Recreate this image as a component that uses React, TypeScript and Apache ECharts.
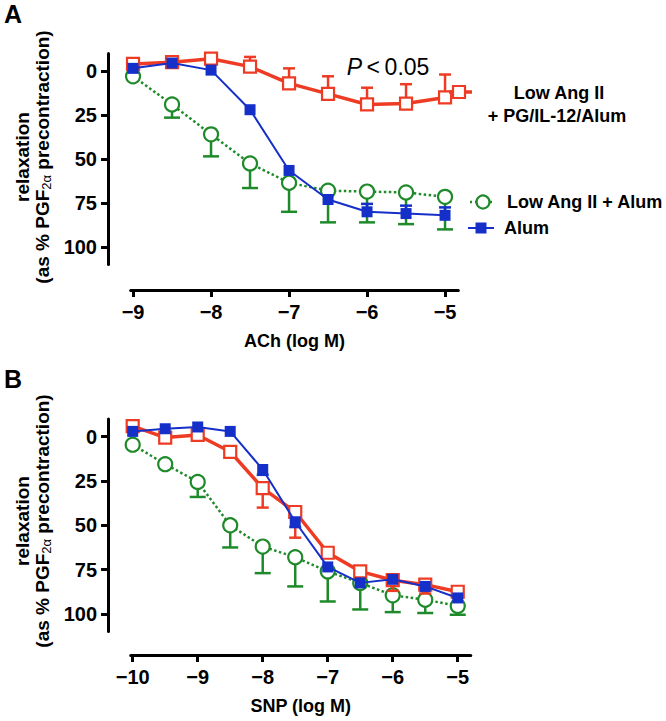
import React, { useEffect, useRef } from 'react';
import * as echarts from 'echarts';

// ---------- data ----------
const xA = [-9, -8.5, -8, -7.5, -7, -6.5, -6, -5.5, -5];
const redA = [-4, -5, -7, -2.5, 7, 13, 19, 18.5, 15];
const redAErr = [null, null, null, -8, -1.5, 3, 9.5, 7.5, 2];
const blueA = [-1.5, -4.5, -0.5, 22, 56.5, 73, 80, 81, 82];
const blueAErr = [null, null, null, null, null, null, 75.5, 76.5, 77.5];
const greenA = [3, 19, 36, 52.5, 63.5, 68, 68.5, 69, 71.5];
const greenAErr = [null, 26.5, 48.5, 66.5, 80, 86, 86, 87, 90];

const xB = [-10, -9.5, -9, -8.5, -8, -7.5, -7, -6.5, -6, -5.5, -5];
const redB = [-6, 0.5, -1, 8.5, 29, 42.5, 65.5, 76, 81, 83.5, 87.5];
const redBErr = [null, null, null, null, 40, 57, null, null, 87, 88.5, null];
const blueB = [-3, -4.5, -5.5, -3, 18.5, 48, 73.5, 82.5, 80.5, 84.5, 91];
const blueBErr = [null, null, null, null, 21.5, 51, null, null, null, null, null];
const greenB = [4.5, 15.5, 25.5, 50, 62, 68, 76, 82.5, 89.5, 92, 95.5];
const greenBErr = [null, null, 34, 62.5, 77, 84.5, 93, 97.5, 99, 99.5, 100.5];

const yTicks = [0, 25, 50, 75, 100];
const xTicksA = [-9, -8, -7, -6, -5];
const xTicksB = [-10, -9, -8, -7, -6, -5];

const seriesNames = ['Low Ang II + PG/IL-12/Alum', 'Low Ang II + Alum', 'Alum'];

// ---------- styles ----------
const F = "'Liberation Sans', Arial, Helvetica, sans-serif";
const RED = '#ee3b24';
const BLUE = '#1530c8';
const GREEN = '#1f8a2a';

const pairs = (xs: number[], ys: number[]) => xs.map((x, i) => [x, ys[i]]);
const errs = (xs: number[], ys: number[], es: (number | null)[]) =>
  xs.map((x, i) => (es[i] == null ? null : [x, ys[i], es[i]])).filter(Boolean) as number[][];

function errSeries(data: number[][], color: string, cap: number, axis: number, z: number) {
  return {
    type: 'custom',
    xAxisIndex: axis,
    yAxisIndex: axis,
    z,
    silent: true,
    encode: { x: 0, y: [1, 2] },
    data,
    renderItem: (params: any, api: any) => {
      const x = api.value(0);
      const y = api.value(1);
      const e = api.value(2);
      const p1 = api.coord([x, y]);
      const p2 = api.coord([x, e]);
      const st = { stroke: color, lineWidth: 2.5, fill: 'none' };
      return {
        type: 'group',
        children: [
          { type: 'line', shape: { x1: p1[0], y1: p1[1], x2: p2[0], y2: p2[1] }, style: st },
          { type: 'line', shape: { x1: p2[0] - cap / 2, y1: p2[1], x2: p2[0] + cap / 2, y2: p2[1] }, style: st },
        ],
      };
    },
  };
}

function lineSeries(name: string, data: number[][], kind: 'red' | 'blue' | 'green', axis: number, z: number) {
  const base: any = {
    type: 'line',
    name,
    data,
    xAxisIndex: axis,
    yAxisIndex: axis,
    z,
    silent: true,
  };
  if (kind === 'red') {
    return {
      ...base,
      symbol: 'rect',
      symbolSize: 12,
      itemStyle: { color: '#fff', borderColor: RED, borderWidth: 2.2 },
      lineStyle: { color: RED, width: 3.5 },
    };
  }
  if (kind === 'blue') {
    return {
      ...base,
      symbol: 'rect',
      symbolSize: 11,
      itemStyle: { color: BLUE, borderColor: BLUE, borderWidth: 0 },
      lineStyle: { color: BLUE, width: 2 },
    };
  }
  return {
    ...base,
    symbol: 'circle',
    symbolSize: 14,
    itemStyle: { color: '#fff', borderColor: GREEN, borderWidth: 2.2 },
    lineStyle: { color: GREEN, width: 2.5, type: 'dotted' },
  };
}

const axisLineStyle = { show: true, onZero: false, lineStyle: { color: '#000', width: 3 } };
const tickStyle = { show: true, length: 7, lineStyle: { color: '#000', width: 3 } };
const tickLabel = { fontFamily: F, fontWeight: 'bold' as const, fontSize: 20, color: '#000' };
const minusFmt = (v: number) => (v < 0 ? '\u2212' + Math.abs(v) : String(v));

function yAxis(grid: number) {
  return {
    type: 'value',
    gridIndex: grid,
    inverse: true,
    min: -10,
    max: 110,
    offset: 22.7,
    axisLine: axisLineStyle,
    axisTick: { ...tickStyle, customValues: yTicks },
    axisLabel: { ...tickLabel, margin: 11, customValues: yTicks },
    splitLine: { show: false },
  };
}

function xAxis(grid: number, min: number, max: number, ticks: number[], name: string, offset: number) {
  return {
    type: 'value',
    gridIndex: grid,
    position: 'bottom',
    min,
    max,
    offset,
    name,
    nameLocation: 'middle',
    nameGap: 42,
    nameTextStyle: { fontFamily: F, fontWeight: 'bold', fontSize: 18, color: '#000', verticalAlign: 'top' },
    axisLine: axisLineStyle,
    axisTick: { ...tickStyle, customValues: ticks },
    axisLabel: { ...tickLabel, margin: 12, customValues: ticks, formatter: minusFmt },
    splitLine: { show: false },
  };
}

function yTitle(cx1: number, cx2: number, cy: number) {
  return [
    {
      type: 'text',
      x: cx1,
      y: cy,
      rotation: Math.PI / 2,
      style: {
        text: 'relaxation',
        fontFamily: F,
        fontWeight: 'bold',
        fontSize: 19,
        fill: '#000',
        align: 'center',
        verticalAlign: 'middle',
      },
    },
    {
      type: 'text',
      x: cx2,
      y: cy,
      rotation: Math.PI / 2,
      style: {
        text: '(as % PGF{sub|2\u03b1} precontraction)',
        fontFamily: F,
        fontWeight: 'bold',
        fontSize: 19,
        fill: '#000',
        align: 'center',
        verticalAlign: 'middle',
        rich: {
          sub: { fontFamily: F, fontWeight: 'normal', fontSize: 13, fill: '#000', padding: [9, 0, 0, 0] },
        },
      },
    },
  ];
}

const textStyle = (text: string, size: number, align = 'left') => ({
  text,
  fontFamily: F,
  fontWeight: 'bold',
  fontSize: size,
  fill: '#000',
  align,
  verticalAlign: 'middle',
});

const option: any = {
  animation: false,
  backgroundColor: '#fff',
  grid: [
    { left: 130.7, top: 53.4, width: 327.6, height: 211.2, containLabel: false, outerBoundsMode: 'none' },
    { left: 130.75, top: 419, width: 340, height: 212.6, containLabel: false, outerBoundsMode: 'none' },
  ],
  xAxis: [
    xAxis(0, -9.03, -4.83, xTicksA, 'ACh (log M)', 25.4),
    xAxis(1, -10.03, -4.8, xTicksB, 'SNP (log M)', 23.4),
  ],
  yAxis: [yAxis(0), yAxis(1)],
  series: [
    errSeries(errs(xA, greenA, greenAErr), GREEN, 16, 0, 1),
    lineSeries(seriesNames[1], pairs(xA, greenA), 'green', 0, 2),
    errSeries(errs(xA, redA, redAErr), RED, 12, 0, 3),
    lineSeries(seriesNames[0], pairs(xA, redA), 'red', 0, 4),
    errSeries(errs(xA, blueA, blueAErr), BLUE, 12, 0, 5),
    lineSeries(seriesNames[2], pairs(xA, blueA), 'blue', 0, 6),

    errSeries(errs(xB, greenB, greenBErr), GREEN, 16, 1, 1),
    lineSeries(seriesNames[1], pairs(xB, greenB), 'green', 1, 2),
    errSeries(errs(xB, redB, redBErr), RED, 12, 1, 3),
    lineSeries(seriesNames[0], pairs(xB, redB), 'red', 1, 4),
    errSeries(errs(xB, blueB, blueBErr), BLUE, 12, 1, 5),
    lineSeries(seriesNames[2], pairs(xB, blueB), 'blue', 1, 6),
  ],
  graphic: [
    { type: 'text', x: 4, y: 14, style: textStyle('A', 25) },
    { type: 'text', x: 4, y: 379, style: textStyle('B', 25) },
    ...yTitle(22, 42, 157),
    ...yTitle(22, 42, 521),
    {
      type: 'text',
      x: 388,
      y: 67,
      style: {
        text: '{i|P}\u2009<\u20090.05',
        fontFamily: F,
        fontSize: 23,
        fill: '#000',
        align: 'center',
        verticalAlign: 'middle',
        rich: { i: { fontFamily: F, fontStyle: 'italic', fontSize: 23, fill: '#000' } },
      },
    },
    // legend: red
    { type: 'line', z: 10, shape: { x1: 449, y1: 92, x2: 472, y2: 92 }, style: { stroke: RED, lineWidth: 3.5 } },
    { type: 'rect', z: 11, shape: { x: 453, y: 86, width: 12, height: 12 }, style: { fill: '#fff', stroke: RED, lineWidth: 2.2 } },
    { type: 'text', x: 559, y: 93, style: textStyle('Low Ang II', 18, 'center') },
    { type: 'text', x: 557, y: 116, style: textStyle('+ PG/IL-12/Alum', 18, 'center') },
    // legend: green
    { type: 'line', z: 10, shape: { x1: 470, y1: 202, x2: 493, y2: 202 }, style: { stroke: GREEN, lineWidth: 2.5, lineDash: [2, 3] } },
    { type: 'circle', z: 11, shape: { cx: 483, cy: 202, r: 6.5 }, style: { fill: '#fff', stroke: GREEN, lineWidth: 2.2 } },
    { type: 'text', x: 507, y: 202, style: textStyle('Low Ang II + Alum', 18) },
    // legend: blue
    { type: 'line', z: 10, shape: { x1: 468, y1: 228, x2: 494, y2: 228 }, style: { stroke: BLUE, lineWidth: 2 } },
    { type: 'rect', z: 11, shape: { x: 475.5, y: 222.5, width: 11, height: 11 }, style: { fill: BLUE } },
    { type: 'text', x: 504, y: 228, style: textStyle('Alum', 18) },
  ],
};

export default function App() {
  const ref = useRef<HTMLDivElement>(null);
  useEffect(() => {
    const chart = echarts.init(ref.current!, null, { renderer: 'svg' });
    chart.setOption(option);
    return () => chart.dispose();
  }, []);
  return (
    <div
      ref={ref}
      style={{ position: 'fixed', left: 0, top: 0, width: 666, height: 721, background: '#fff' }}
    />
  );
}
